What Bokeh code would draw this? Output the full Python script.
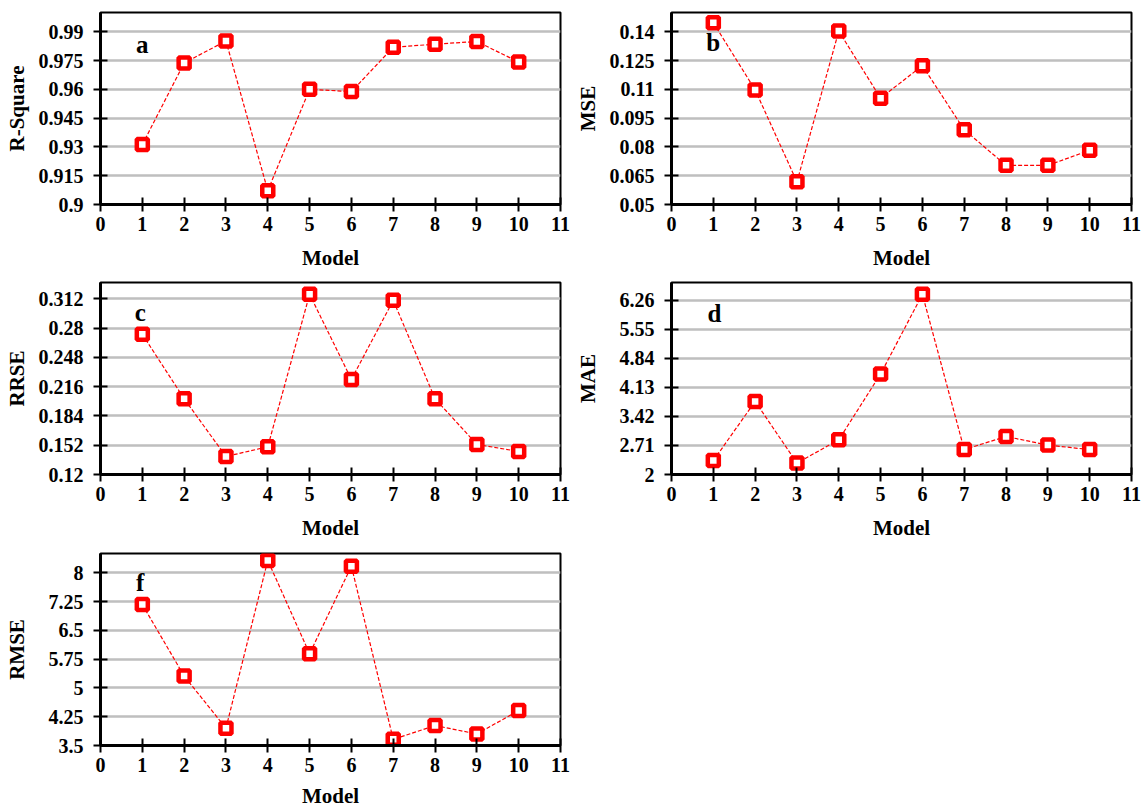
from bokeh.plotting import figure
from bokeh.models import Range1d, FixedTicker, Label
from bokeh.layouts import column, row
from bokeh.embed import file_html
from bokeh.resources import INLINE

# ---------------- data ----------------
models = [1, 2, 3, 4, 5, 6, 7, 8, 9, 10]
x_ticks = [0, 1, 2, 3, 4, 5, 6, 7, 8, 9, 10, 11]

r_square = [0.9312, 0.9737, 0.9852, 0.9072, 0.9600, 0.9588, 0.9819, 0.9835, 0.9849, 0.9742]
mse = [0.1447, 0.1097, 0.0618, 0.1403, 0.1054, 0.1223, 0.0889, 0.0704, 0.0704, 0.0782]
rrse = [0.2733, 0.2029, 0.1397, 0.1503, 0.3171, 0.2240, 0.3105, 0.2029, 0.1529, 0.1452]
mae = [2.34, 3.79, 2.28, 2.85, 4.46, 6.41, 2.61, 2.93, 2.72, 2.61]
rmse = [7.17, 5.31, 3.95, 8.32, 5.89, 8.17, 3.66, 4.02, 3.80, 4.41]

r_square_ticks = [0.9, 0.915, 0.93, 0.945, 0.96, 0.975, 0.99]
r_square_labels = ["0.9", "0.915", "0.93", "0.945", "0.96", "0.975", "0.99"]
mse_ticks = [0.05, 0.065, 0.08, 0.095, 0.11, 0.125, 0.14]
mse_labels = ["0.05", "0.065", "0.08", "0.095", "0.11", "0.125", "0.14"]
rrse_ticks = [0.12, 0.152, 0.184, 0.216, 0.248, 0.28, 0.312]
rrse_labels = ["0.12", "0.152", "0.184", "0.216", "0.248", "0.28", "0.312"]
mae_ticks = [2, 2.71, 3.42, 4.13, 4.84, 5.55, 6.26]
mae_labels = ["2", "2.71", "3.42", "4.13", "4.84", "5.55", "6.26"]
rmse_ticks = [3.5, 4.25, 5, 5.75, 6.5, 7.25, 8]
rmse_labels = ["3.5", "4.25", "5", "5.75", "6.5", "7.25", "8"]

FONT = "Liberation Serif"


def make_panel(ylabel, values, yrange, ticks, labels, letter, letter_pos,
               height, top, bottom, ylab_standoff, xlab_standoff):
    p = figure(width=571, height=height,
               x_range=Range1d(0, 11), y_range=Range1d(*yrange),
               output_backend="svg", toolbar_location=None,
               min_border_left=100, min_border_right=11,
               min_border_top=top, min_border_bottom=bottom,
               background_fill_color="white", border_fill_color="white")
    p.outline_line_color = "black"
    p.outline_line_width = 2

    p.xgrid.visible = False
    p.ygrid.ticker = FixedTicker(ticks=ticks)
    p.ygrid.grid_line_color = "#bfbfbf"
    p.ygrid.grid_line_width = 2.5

    p.xaxis.ticker = FixedTicker(ticks=x_ticks)
    p.xaxis.major_label_overrides = {t: str(t) for t in x_ticks}
    p.yaxis.ticker = FixedTicker(ticks=ticks)
    p.yaxis.major_label_overrides = {t: l for t, l in zip(ticks, labels)}

    for ax in (p.xaxis[0], p.yaxis[0]):
        ax.axis_line_width = 3
        ax.axis_line_color = "black"
        ax.major_tick_line_width = 2
        ax.major_tick_line_color = "black"
        ax.major_tick_in = 7
        ax.major_tick_out = 7
        ax.minor_tick_line_color = None
        ax.major_label_text_font = FONT
        ax.major_label_text_font_style = "bold"
        ax.major_label_text_font_size = "20px"
        ax.major_label_text_color = "black"
        ax.axis_label_text_font = FONT
        ax.axis_label_text_font_style = "bold"
        ax.axis_label_text_font_size = "21px"
        ax.axis_label_text_color = "black"

    p.xaxis.axis_label = "Model"
    p.xaxis.major_label_standoff = 5
    p.xaxis.axis_label_standoff = xlab_standoff
    p.yaxis.axis_label = ylabel
    p.yaxis.major_label_standoff = 10
    p.yaxis.axis_label_standoff = ylab_standoff

    p.line(models, values, line_color="#ff0000", line_width=1.2, line_dash="4 2")
    p.scatter(models, values, marker="square", size=11, line_color="#ff0000",
              line_width=4.5, fill_color="white")

    p.add_layout(Label(x=letter_pos[0], y=letter_pos[1], text=letter,
                       text_font=FONT, text_font_style="bold", text_font_size="25px",
                       text_align="center", text_baseline="middle", text_color="black"))
    return p


pa = make_panel("R-Square", r_square, (0.9, 1.0), r_square_ticks, r_square_labels,
                "a", (1.0, 0.9835), 276, 12, 72, 7, 12)
pb = make_panel("MSE", mse, (0.05, 0.15), mse_ticks, mse_labels,
                "b", (1.0, 0.1345), 276, 12, 72, 7, 12)
pc = make_panel("RRSE", rrse, (0.12, 0.33), rrse_ticks, rrse_labels,
                "c", (0.95, 0.2975), 270, 6, 72, 7, 12)
pd_ = make_panel("MAE", mae, (2, 6.7), mae_ticks, mae_labels,
                 "d", (1.03, 5.94), 270, 6, 72, 17, 12)
pf = make_panel("RMSE", rmse, (3.5, 8.5), rmse_ticks, rmse_labels,
                "f", (0.95, 7.75), 265, 7, 66, 17, 9)

layout = column(row(pa, pb), row(pc, pd_), row(pf))

open("out.html", "w").write(file_html(layout, INLINE))
